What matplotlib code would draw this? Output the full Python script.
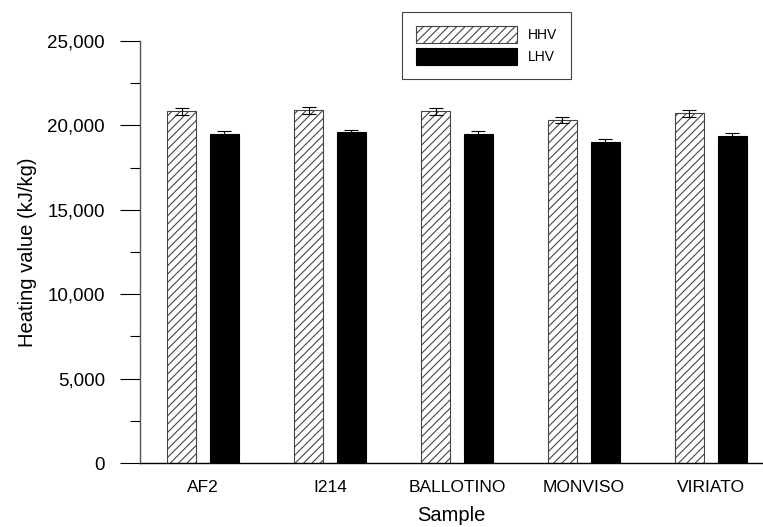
import numpy as np
import matplotlib

matplotlib.use("Agg")

import matplotlib.pyplot as plt
from matplotlib.ticker import FuncFormatter, MultipleLocator

# Data
samples = ["AF2", "I214", "BALLOTINO", "MONVISO", "VIRIATO"]
hhv = [20850, 20910, 20840, 20340, 20720]
hhv_err = [200, 210, 200, 190, 200]
lhv = [19490, 19590, 19490, 19040, 19370]
lhv_err = [170, 170, 170, 170, 170]

plt.rcParams["font.family"] = ["Liberation Sans", "DejaVu Sans"]
plt.rcParams["hatch.linewidth"] = 0.8
plt.rcParams["hatch.color"] = "#555555"

fig = plt.figure(figsize=(7.63, 5.27), dpi=100)
ax = fig.add_axes([0.1835, 0.1214, 0.8165, 0.8006])

x = np.arange(len(samples))
width = 0.228
offset = 0.169

ax.bar(x - offset, hhv, width, color="white", edgecolor="#444444", hatch="////",
       linewidth=0.8, label="HHV")
ax.bar(x + offset, lhv, width, color="black", edgecolor="black", linewidth=0.8,
       label="LHV")
ax.errorbar(x - offset, hhv, yerr=hhv_err, fmt="none", ecolor="black",
            elinewidth=0.8, capsize=5, capthick=0.8)
ax.errorbar(x + offset, lhv, yerr=lhv_err, fmt="none", ecolor="black",
            elinewidth=0.8, capsize=5, capthick=0.8)

ax.set_xlim(-0.496, 4.41)
ax.set_ylim(0, 25000)
ax.set_xticks(x)
ax.set_xticklabels(samples, fontsize=12.5)
ax.tick_params(axis="x", length=0, pad=12)
ax.yaxis.set_major_locator(MultipleLocator(5000))
ax.yaxis.set_minor_locator(MultipleLocator(2500))
ax.yaxis.set_major_formatter(FuncFormatter(lambda v, p: f"{int(v):,}"))
ax.tick_params(axis="y", which="major", length=14.4, width=0.8, labelsize=13.5, pad=10.8)
ax.tick_params(axis="y", which="minor", length=7.2, width=0.8)

for side in ["top", "right"]:
    ax.spines[side].set_visible(False)
ax.spines["left"].set_color("#555555")
ax.spines["left"].set_linewidth(1.0)
ax.spines["bottom"].set_linewidth(1.0)

ax.set_xlabel("Sample", fontsize=14.5, labelpad=8)
ax.set_ylabel("Heating value (kJ/kg)", fontsize=14.5)
ax.yaxis.set_label_coords(-0.166, 0.5)

leg = ax.legend(loc="upper left", bbox_to_anchor=(0.42, 1.0694), fontsize=10,
                handlelength=7.3, handleheight=1.5, fancybox=False,
                edgecolor="#444444", framealpha=1, borderpad=1.0,
                labelspacing=0.4, handletextpad=0.77, borderaxespad=0)
leg.get_frame().set_linewidth(0.8)

fig.savefig("out.png", dpi=100)
